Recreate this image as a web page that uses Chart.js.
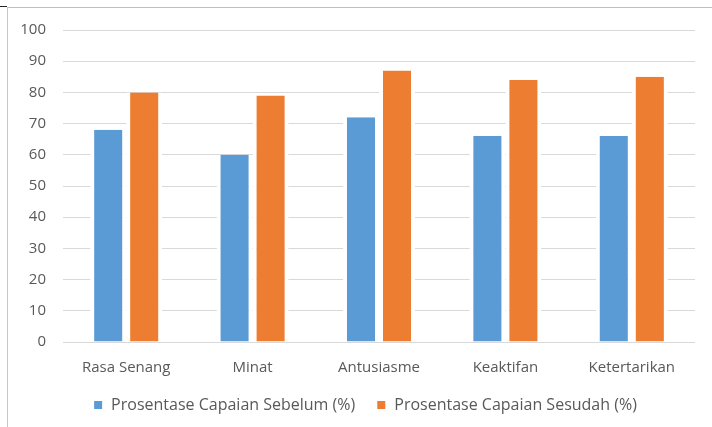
<!DOCTYPE html>
<html>
<head>
<meta charset="utf-8">
<script src="https://cdn.jsdelivr.net/npm/chart.js@4/dist/chart.umd.min.js"></script>
<style>
  html, body { margin: 0; padding: 0; background: #ffffff; }
  #wrap { position: relative; width: 712px; height: 427px; overflow: hidden; }
  #frame { position: absolute; left: 7px; top: 7px; width: 710px; height: 430px;
           border-left: 1px solid #c8c8c8; border-top: 1px solid #bfbfbf; }
  #corner { position: absolute; left: 0; top: 6px; width: 7px; height: 1px; background: #222; }
  canvas { position: absolute; left: 0; top: 0; }
</style>
</head>
<body>
<div id="wrap">
  <div id="frame"></div>
  <div id="corner"></div>
  <canvas id="chart" width="712" height="427"></canvas>
</div>
<script>
// Categories and the two series of percentages
const categories = ['Rasa Senang', 'Minat', 'Antusiasme', 'Keaktifan', 'Ketertarikan'];
const sebelum = [68, 60, 72, 66, 66];
const sesudah = [80, 79, 87, 84, 85];
const seriesNames = ['Prosentase Capaian Sebelum (%)', 'Prosentase Capaian Sesudah (%)'];

const FONT = "'Open Sans', sans-serif";
const TEXT = '#595959';
const PAD_LEFT = 35;

// Axis labels are laid out in tight bands; let them draw unclipped.
const unclippedAxisLabels = {
  id: 'unclippedAxisLabels',
  afterLayout(chart) {
    chart.scales.x._computeLabelArea = () => undefined;
    chart.scales.y._computeLabelArea = () => undefined;
  }
};

new Chart(document.getElementById('chart'), {
  type: 'bar',
  data: {
    labels: categories,
    datasets: [
      { label: seriesNames[0], data: sebelum, backgroundColor: '#5B9BD5',
        borderColor: '#ffffff', borderWidth: { left: 4, right: 4, top: 0, bottom: 0 } },
      { label: seriesNames[1], data: sesudah, backgroundColor: '#ED7D31',
        borderColor: '#ffffff', borderWidth: { left: 4, right: 4, top: 0, bottom: 0 } }
    ]
  },
  plugins: [unclippedAxisLabels],
  options: {
    responsive: false,
    animation: false,
    layout: { padding: { left: PAD_LEFT, right: 17, top: 30, bottom: 4 } },
    datasets: { bar: { categoryPercentage: 0.57, barPercentage: 1.0 } },
    scales: {
      x: {
        grid: { display: false },
        border: { display: false },
        ticks: { color: TEXT, font: { family: FONT, size: 15 }, padding: 9, maxRotation: 0 },
        afterFit: s => { s.height = 34; }
      },
      y: {
        min: 0, max: 100,
        grid: { color: '#d9d9d9', lineWidth: 1, drawTicks: false },
        border: { display: false },
        ticks: { stepSize: 10, color: TEXT, font: { family: FONT, size: 15 }, padding: 17 },
        afterFit: s => { s.width = 63 - PAD_LEFT; }
      }
    },
    plugins: {
      legend: {
        position: 'bottom',
        labels: { color: TEXT, font: { family: FONT, size: 16 }, boxWidth: 10, boxHeight: 10, padding: 21 }
      },
      tooltip: { enabled: false }
    }
  }
});
</script>
</body>
</html>
